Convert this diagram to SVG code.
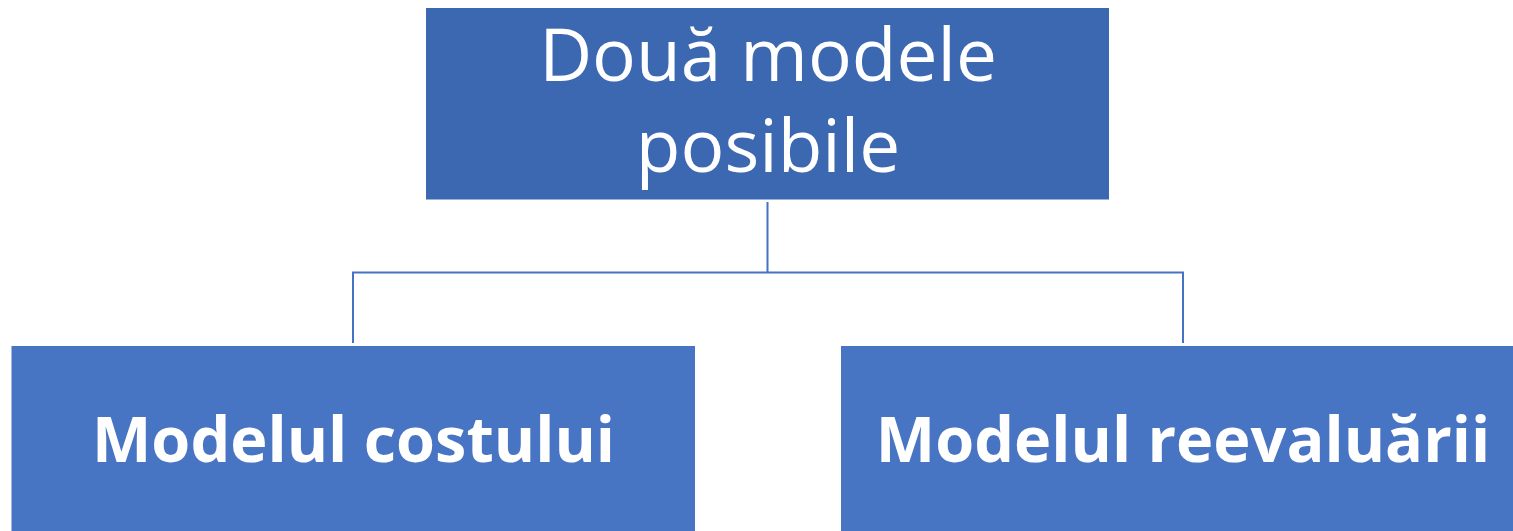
<svg xmlns="http://www.w3.org/2000/svg" width="1513" height="531" viewBox="0 0 1513 531">
<style>
.top{fill:#3C67B1}
.bot{fill:#4874C4}
.t1{font-family:"Open Sans","Noto Sans",sans-serif;font-size:73px;fill:#fff;text-anchor:middle}
.t2{font-family:"Open Sans","Noto Sans",sans-serif;font-size:63px;font-weight:bold;fill:#fff;text-anchor:middle}
.conn{fill:none;stroke:#4472C4;stroke-width:2}
</style>
<rect width="1513" height="531" fill="#fff"/>
<g id="connectors">
<path class="conn" d="M767.5 202 V272.5 M353 343 V272.5 H1183 V343"/>
</g>
<g id="node-top">
<rect class="top" x="426" y="8" width="683" height="191.5"/>
<text class="t1" x="768" y="81">Două modele</text>
<text class="t1" x="768" y="172">posibile</text>
</g>
<g id="node-cost">
<rect class="bot" x="11.5" y="346" width="683.5" height="191"/>
<text class="t2" x="353.5" y="462">Modelul costului</text>
</g>
<g id="node-reeval">
<rect class="bot" x="841" y="346" width="684" height="191"/>
<text class="t2" x="1183" y="462">Modelul reevaluării</text>
</g>
</svg>
